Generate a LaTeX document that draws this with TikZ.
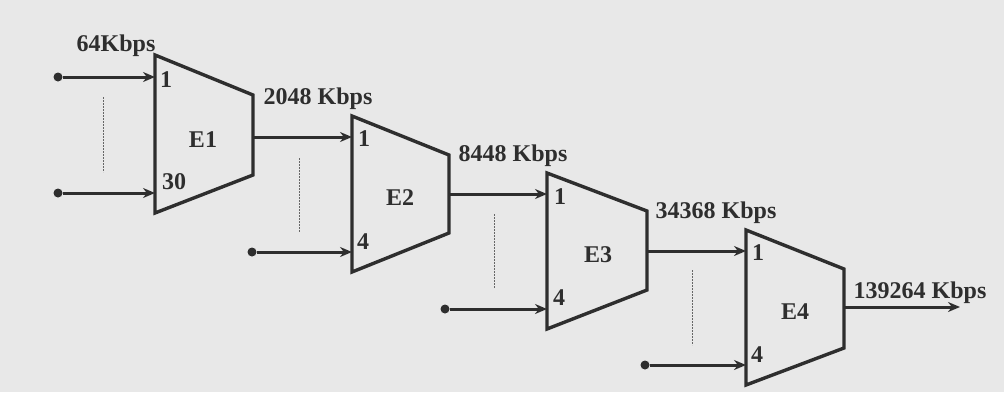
\documentclass[tikz,border=0pt]{standalone}
\usepackage{fontspec}
\setmainfont{Liberation Serif}
\usetikzlibrary{arrows.meta}
\begin{document}
\begin{tikzpicture}[x=1pt,y=-1pt,
  ink/.style={draw=black!82},
  trap/.style={ink,line width=3.4pt,line join=miter},
  arr/.style={ink,line width=3pt,-{Stealth[length=12pt,width=10pt]}},
  dotn/.style={circle,fill=black!82,inner sep=0pt,minimum size=9pt},
  lbl/.style={font=\fontsize{24}{26}\selectfont\bfseries,text=black!82,inner sep=0pt},
  vdots/.style={draw=black!60,line width=1pt,dash pattern=on 2pt off 1pt}]
\useasboundingbox[fill=black!9] (0,0) rectangle (1004,392);
% E1
\draw[trap] (155,55) -- (253,95) -- (253,175) -- (155,213) -- cycle;
\node[lbl] (E1) at (203,140) {E1};
\coordinate (E1a) at (155,77);
\coordinate (E1b) at (155,193);
\coordinate (E1out) at (253,137);
\node[dotn] (d11) at (58,77) {};
\node[dotn] (d12) at (58,193) {};
\draw[arr] (d11) -- (E1a);
\draw[arr] (d12) -- (E1b);
\coordinate (v1a) at (103,97); \coordinate (v1b) at (103,172);
\draw[vdots] (v1a) -- (v1b);
\node[lbl] (r1) at (116,46) {64Kbps};
\node[lbl] (p11) at (166,80) {1};
\node[lbl] (p12) at (174,182) {30};
% E2
\draw[trap] (352,116) -- (449,155) -- (449,233) -- (352,272) -- cycle;
\node[lbl] (E2) at (400,198) {E2};
\coordinate (E2a) at (352,137);
\coordinate (E2b) at (352,252);
\coordinate (E2out) at (449,194);
\node[dotn] (d22) at (252,252) {};
\draw[arr] (E1out) -- (E2a);
\draw[arr] (d22) -- (E2b);
\coordinate (v2a) at (299,158); \coordinate (v2b) at (299,232);
\draw[vdots] (v2a) -- (v2b);
\node[lbl] (r2) at (318,99) {2048 Kbps};
\node[lbl] (p21) at (364,139) {1};
\node[lbl] (p22) at (363,242) {4};
% E3
\draw[trap] (547,173) -- (647,211) -- (647,290) -- (547,329) -- cycle;
\node[lbl] (E3) at (598,255) {E3};
\coordinate (E3a) at (547,194);
\coordinate (E3b) at (547,309);
\coordinate (E3out) at (647,251);
\node[dotn] (d32) at (445,309) {};
\draw[arr] (E2out) -- (E3a);
\draw[arr] (d32) -- (E3b);
\coordinate (v3a) at (494,214); \coordinate (v3b) at (494,288);
\draw[vdots] (v3a) -- (v3b);
\node[lbl] (r3) at (513,156) {8448 Kbps};
\node[lbl] (p31) at (560,197) {1};
\node[lbl] (p32) at (559,298) {4};
% E4
\draw[trap] (746,230) -- (844,269) -- (844,348) -- (746,385) -- cycle;
\node[lbl] (E4) at (795,312) {E4};
\coordinate (E4a) at (746,251);
\coordinate (E4b) at (746,365);
\coordinate (E4out) at (844,307);
\coordinate (outend) at (960,307);
\node[dotn] (d42) at (645,365) {};
\draw[arr] (E3out) -- (E4a);
\draw[arr] (d42) -- (E4b);
\draw[arr] (E4out) -- (outend);
\coordinate (v4a) at (692,270); \coordinate (v4b) at (692,345);
\draw[vdots] (v4a) -- (v4b);
\node[lbl] (r4) at (716,213) {34368 Kbps};
\node[lbl] (r5) at (920,293) {139264 Kbps};
\node[lbl] (p41) at (758,253) {1};
\node[lbl] (p42) at (757,355) {4};
\end{tikzpicture}
\end{document}
